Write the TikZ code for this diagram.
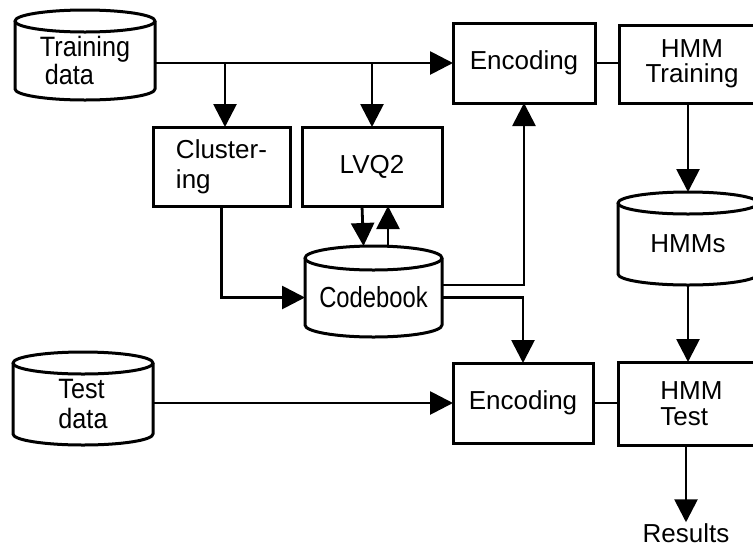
\documentclass[tikz,border=0pt]{standalone}
\usepackage{fontspec}
\setmainfont{Liberation Sans}
\newfontfamily\narrowfont{Liberation Sans}[FakeStretch=0.82]
\newfontfamily\tallfont{Liberation Sans}[FakeStretch=0.9]
\usetikzlibrary{arrows.meta,calc}

\tikzset{
  box/.style={draw, line width=3pt, inner sep=0pt, outer sep=0pt,
    font=\fontsize{26}{27}\selectfont},
  cylbody/.style={draw=none, inner sep=0pt, outer sep=0pt,
    font=\tallfont\fontsize{28}{26}\selectfont},
  cylline/.style={line width=3pt, line join=round},
  arr/.style={line width=2.8pt, -{Triangle[length=23pt,width=23pt]}},
  link/.style={line width=2.8pt},
}

% cylinder outline round a node whose top edge is the centre of the lid
\newcommand{\drumshape}[3]{%
  \draw[cylline] (#1.north west) -- ($(#1.south west)+(0,#3)$)
    arc[start angle=180, end angle=360, x radius=#2, y radius=#3]
    -- (#1.north east);
  \draw[cylline] (#1.north) ellipse[x radius=#2, y radius=#3];
}

\begin{document}
\begin{tikzpicture}[x=1pt,y=1pt]
\useasboundingbox (0,0) rectangle (753,-547);
\clip (0,0) rectangle (753,-547);

% stores
\node[cylbody, minimum width=140pt, minimum height=79pt, align=left]
  (td) at (85,-60.5) {Training\\\hspace{5pt}data};
\node[cylbody, minimum width=140pt, minimum height=82pt, align=left,
  font=\tallfont\fontsize{28}{30}\selectfont]
  (tsd) at (83,-404) {Test\\data};
\node[cylbody, minimum width=137pt, minimum height=79pt,
  font=\narrowfont\fontsize{29}{29}\selectfont]
  (cb) at (373.5,-297.5) {Codebook};
\node[cylbody, minimum width=140pt, minimum height=82pt,
  font=\fontsize{26}{27}\selectfont]
  (hms) at (688,-244) {HMMs};
\drumshape{td}{70}{11}
\drumshape{tsd}{70}{11}
\drumshape{cb}{68.5}{12}
\drumshape{hms}{70}{11}

% processing steps
\node[box, minimum width=137pt, minimum height=79pt, align=left,
  font=\fontsize{26}{30}\selectfont]
  (clu) at (221.5,-166.5) {Cluster-\\ing};
\node[box, minimum width=140pt, minimum height=79pt]
  (lvq) at (372,-166.5) {LVQ2};
\node[box, minimum width=142pt, minimum height=80pt]
  (enc1) at (524,-63) {Encoding};
\node[box, minimum width=146pt, minimum height=78pt, align=center,
  font=\fontsize{26}{25}\selectfont]
  (hmt) at (692,-64) {HMM\\Training};
\node[box, minimum width=140pt, minimum height=80pt]
  (enc2) at (523,-403) {Encoding};
\node[box, minimum width=147pt, minimum height=83pt, align=left,
  font=\fontsize{26}{26}\selectfont]
  (hmx) at (691.5,-403.5) {HMM\\Test};
\node[inner sep=1pt, font=\fontsize{26}{27}\selectfont]
  (res) at (686,-533) {Results};

% training path
\coordinate (j1) at (225,-63);
\draw[arr] (td.east |- enc1.west) -- (enc1.west);
\draw[arr] (j1) -- (j1 |- clu.north);
\draw[arr] (lvq.north |- enc1.west) -- (lvq.north);
\draw[arr] (clu.south) |- (cb.west);
\draw[arr] ($(lvq.south)+(-10,0)$) -- ($(cb.north)+(-10,12)$);
\draw[arr] ($(cb.north)+(14.5,12)$) -- ($(lvq.south)+(16,0)$);
\draw[arr] ($(cb.east)+(0,12.5)$) -| (enc1.south);
\draw[arr] (cb.east) -| (enc2.north);
\draw[link] (enc1.east) -- (enc1.east -| hmt.west);
\draw[arr] (hms.north |- hmt.south) -- ($(hms.north)+(0,11)$);

% test path
\draw[arr] (tsd.east |- enc2.west) -- (enc2.west);
\draw[link] (enc2.east) -- (enc2.east -| hmx.west);
\draw[arr] (hms.south) -- (hms.south |- hmx.north);
\draw[arr] (res.north |- hmx.south) -- (res.north);
\end{tikzpicture}
\end{document}
